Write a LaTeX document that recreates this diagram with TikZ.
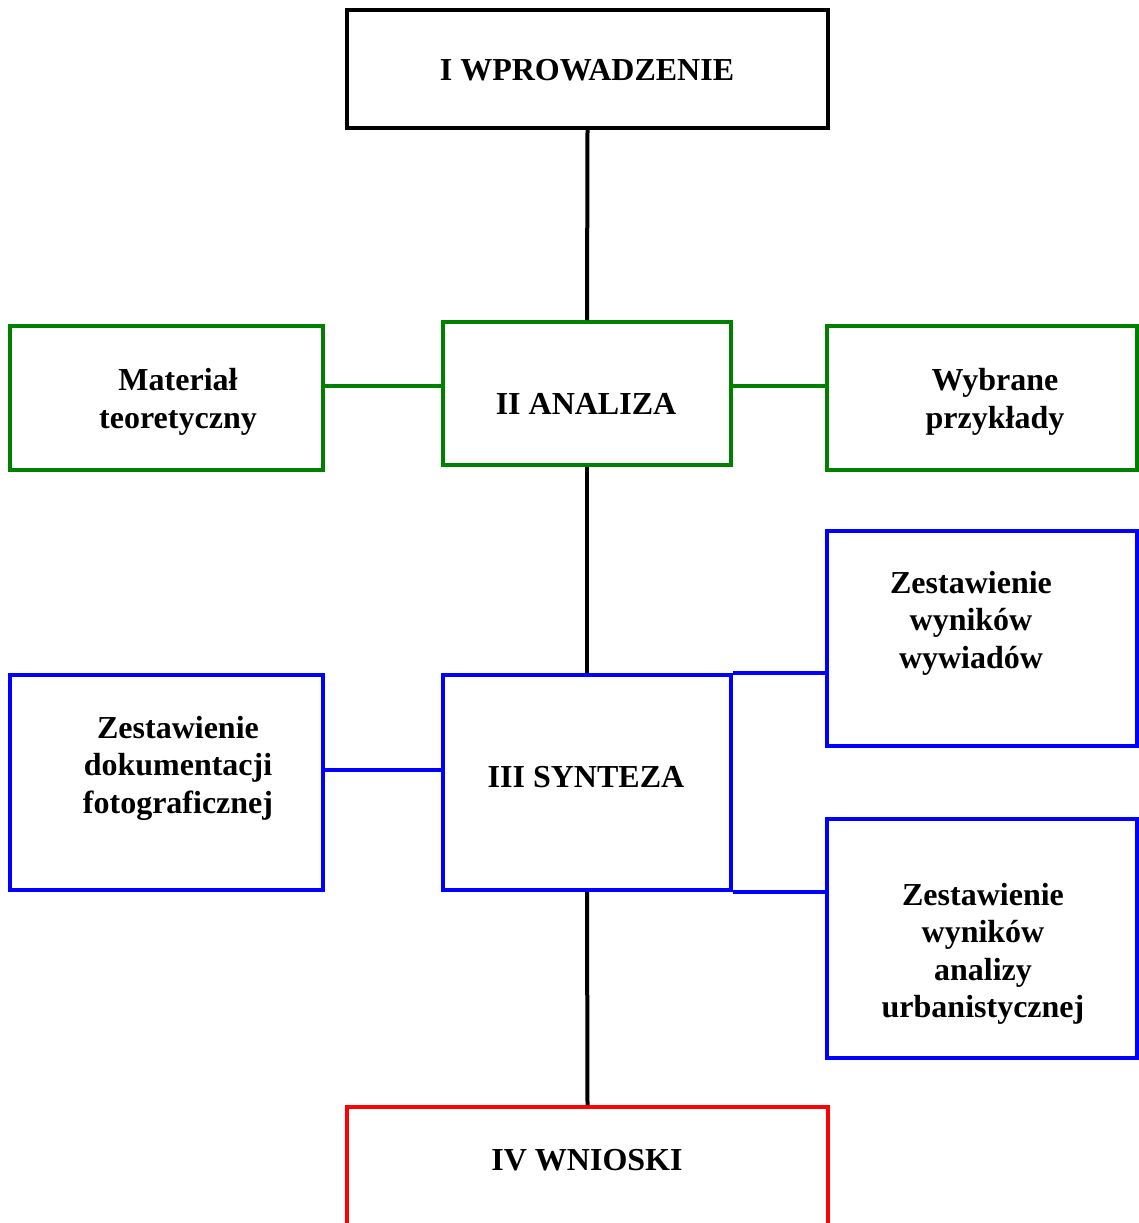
\documentclass[tikz,border=0pt]{standalone}
\usepackage{fontspec}
\setmainfont{Liberation Serif}
\usepackage{xcolor}
\usepackage{tikz}
\definecolor{stagegreen}{RGB}{0,128,0}
\definecolor{stageblue}{RGB}{0,0,255}
\definecolor{stagered}{RGB}{255,0,0}
\tikzstyle{stagebox} = [draw, line width=4pt, inner sep=0pt]
\tikzstyle{boxtext} = [inner sep=0pt, align=center, font=\fontsize{32}{37.5}\selectfont\bfseries]
\tikzstyle{link} = [line width=4pt]

\begin{document}
\begin{tikzpicture}[x=1pt, y=-1pt]
    \path[use as bounding box, clip] (0,0) rectangle (1139,1223);

    % main stages
    \node[stagebox, minimum width=481pt, minimum height=118pt] (intro) at (587.5,69) {};
    \node[stagebox, stagegreen, minimum width=288pt, minimum height=143pt] (analiza) at (587,393.5) {};
    \node[stagebox, stageblue, minimum width=288pt, minimum height=215pt] (synteza) at (587,782.5) {};
    \node[stagebox, stagered, minimum width=481pt, minimum height=134pt] (wnioski) at (587.5,1174) {};

    % analysis sources
    \node[stagebox, stagegreen, minimum width=313pt, minimum height=144pt] (material) at (166.5,398) {};
    \node[stagebox, stagegreen, minimum width=310pt, minimum height=144pt] (przyklady) at (982,398) {};

    % synthesis parts
    \node[stagebox, stageblue, minimum width=313pt, minimum height=215pt] (foto) at (166.5,782.5) {};
    \node[stagebox, stageblue, minimum width=310pt, minimum height=215pt] (wywiady) at (982,638.5) {};
    \node[stagebox, stageblue, minimum width=310pt, minimum height=239pt] (urban) at (982,938.5) {};

    % texts
    \node[boxtext] (t-intro) at (587,70) {I WPROWADZENIE};
    \node[boxtext] (t-analiza) at (586,404) {II ANALIZA};
    \node[boxtext] (t-synteza) at (586,777) {III SYNTEZA};
    \node[boxtext] (t-wnioski) at (587,1160) {IV WNIOSKI};
    \node[boxtext] (t-material) at (178,402) {Materiał\\teoretyczny};
    \node[boxtext] (t-przyklady) at (995,402) {Wybrane\\przykłady};
    \node[boxtext] (t-foto) at (178,768) {Zestawienie\\dokumentacji\\fotograficznej};
    \node[boxtext] (t-wywiady) at (971,623) {Zestawienie\\wyników\\wywiadów};
    \node[boxtext] (t-urban) at (983,954) {Zestawienie\\wyników\\analizy\\urbanistycznej};

    % connectors
    \draw[link] (intro.south) -- (analiza.north);
    \draw[link] (analiza.south) -- (synteza.north);
    \draw[link] (synteza.south) -- (wnioski.north);
    \draw[link, stagegreen] ([yshift=12pt]material.east) -- ([yshift=7.5pt]analiza.west);
    \draw[link, stagegreen] ([yshift=7.5pt]analiza.east) -- ([yshift=12pt]przyklady.west);
    \draw[link, stageblue] ([yshift=12.5pt]foto.east) -- ([yshift=12.5pt]synteza.west);
    \draw[link, stageblue] (synteza.north east) -- (synteza.north east -| wywiady.west);
    \draw[link, stageblue] (synteza.south east) -- (synteza.south east -| urban.west);
\end{tikzpicture}
\end{document}
